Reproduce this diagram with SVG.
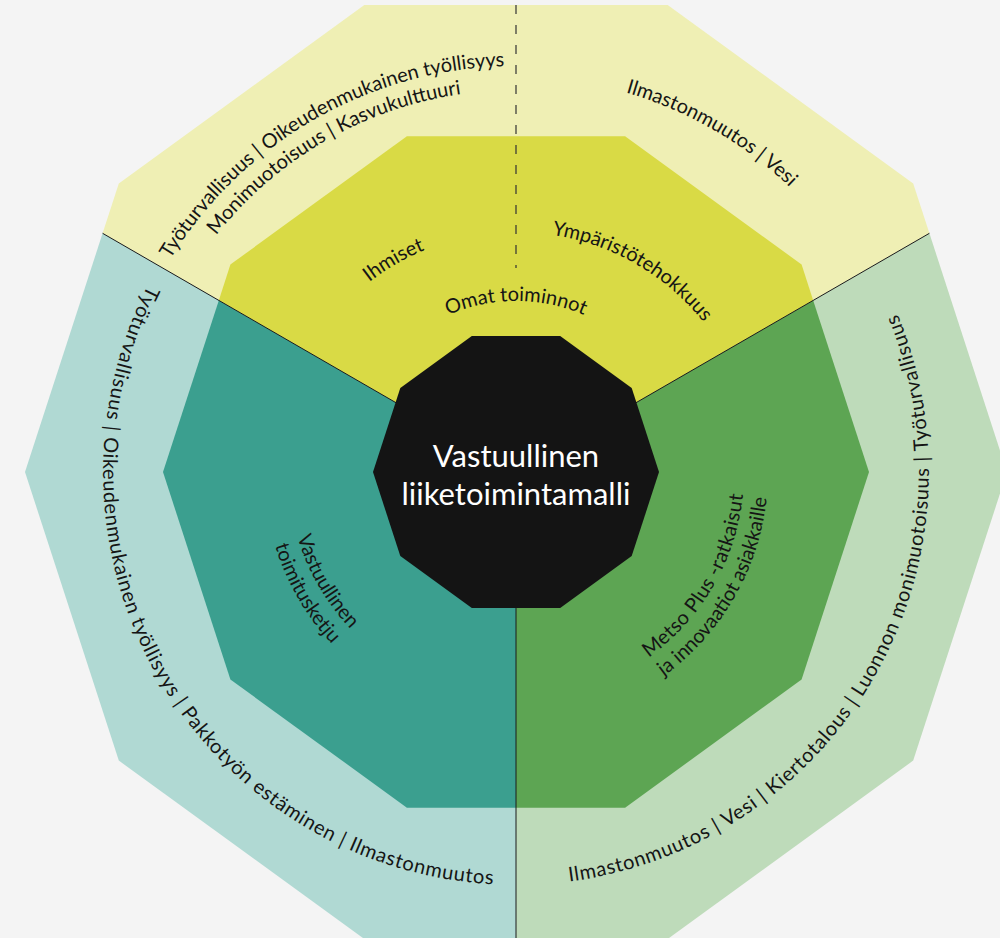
<svg xmlns="http://www.w3.org/2000/svg" width="1000" height="938" viewBox="0 0 1000 938">
<style>
.lbl{font-family:Lato,"Liberation Sans",sans-serif;font-size:20px;fill:#151515}
.wide{letter-spacing:0.7px}
.ctr{font-family:Lato,"Liberation Sans",sans-serif;font-size:31px;fill:#ffffff}
.div{stroke:#1a1a1a;stroke-width:1;fill:none}
.dash{stroke:#333333;stroke-width:1.2;stroke-dasharray:9 11;fill:none}
</style>
<defs>
<path id="p-top1" d="M 110 472 A 406 406 0 0 1 719 120.4"/>
<path id="p-top2" d="M 134 472 A 382 382 0 0 1 707 141.2"/>
<path id="p-topR" d="M 318.5 129.9 A 395 395 0 0 1 911 472"/>
<path id="p-ihm" d="M 276 472 A 240 240 0 0 1 636 264.2"/>
<path id="p-ymp" d="M 396 264.2 A 240 240 0 0 1 756 472"/>
<path id="p-omat" d="M 345 472 A 171 171 0 0 1 687 472"/>
<path id="p-left" d="M 279.1 133.7 A 413 413 0 0 0 690.5 846.3"/>
<path id="p-right" d="M 341.5 846.3 A 413 413 0 0 0 752.9 133.7"/>
<path id="p-left1" d="M 318.5 358 A 228 228 0 0 0 516 700"/>
<path id="p-left2" d="M 297.8 346 A 252 252 0 0 0 516 724"/>
<path id="p-right1" d="M 516 700 A 228 228 0 0 0 713.5 358"/>
<path id="p-right2" d="M 516 724 A 252 252 0 0 0 734.2 346"/>
</defs>
<rect width="1000" height="938" fill="#f4f4f4"/>

<g id="sector-omat-toiminnot">
<polygon points="516,472 929.4,233.3 913.2,183.4 667.7,5 364.3,5 118.8,183.4 102.6,233.3" fill="#efefb4"/>
<polygon points="516,472 813.2,300.4 801.6,264.5 625.1,136.3 406.9,136.3 230.4,264.5 218.8,300.4" fill="#d9da45"/>
<text class="lbl"><textPath href="#p-top1" startOffset="50%" text-anchor="middle">Työturvallisuus | Oikeudenmukainen työllisyys</textPath></text>
<text class="lbl"><textPath href="#p-top2" startOffset="50%" text-anchor="middle">Monimuotoisuus | Kasvukulttuuri</textPath></text>
<text class="lbl"><textPath href="#p-topR" startOffset="50%" text-anchor="middle">Ilmastonmuutos | Vesi</textPath></text>
<text class="lbl"><textPath href="#p-ihm" startOffset="50%" text-anchor="middle">Ihmiset</textPath></text>
<text class="lbl"><textPath href="#p-ymp" startOffset="50%" text-anchor="middle">Ympäristötehokkuus</textPath></text>
<text class="lbl"><textPath href="#p-omat" startOffset="50%" text-anchor="middle">Omat toiminnot</textPath></text>
</g>

<g id="sector-toimitusketju">
<polygon points="516,472 102.6,233.3 25,472 118.8,760.6 364.3,939 516,939" fill="#b0d9d3"/>
<polygon points="516,472 218.8,300.4 163,472 230.4,679.5 406.9,807.7 516,807.7" fill="#3b9f8f"/>
<text class="lbl wide"><textPath href="#p-left" startOffset="50%" text-anchor="middle">Työturvallisuus | Oikeudenmukainen työllisyys | Pakkotyön estäminen | Ilmastonmuutos</textPath></text>
<text class="lbl"><textPath href="#p-left1" startOffset="50%" text-anchor="middle">Vastuullinen</textPath></text>
<text class="lbl"><textPath href="#p-left2" startOffset="50%" text-anchor="middle">toimitusketju</textPath></text>
</g>

<g id="sector-asiakkaat">
<polygon points="516,472 516,939 667.7,939 913.2,760.6 1007,472 929.4,233.3" fill="#bedbba"/>
<polygon points="516,472 516,807.7 625.1,807.7 801.6,679.5 869,472 813.2,300.4" fill="#5da553"/>
<text class="lbl wide"><textPath href="#p-right" startOffset="50%" text-anchor="middle">Ilmastonmuutos | Vesi | Kiertotalous | Luonnon monimuotoisuus | Työturvallisuus</textPath></text>
<text class="lbl" style="letter-spacing:0.4px"><textPath href="#p-right1" startOffset="50%" text-anchor="middle">Metso Plus -ratkaisut</textPath></text>
<text class="lbl"><textPath href="#p-right2" startOffset="50%" text-anchor="middle">ja innovaatiot asiakkaille</textPath></text>
</g>

<g id="connectors">
<line class="div" x1="516" y1="472" x2="102.6" y2="233.3"/>
<line class="div" x1="516" y1="472" x2="929.4" y2="233.3"/>
<line class="div" x1="516" y1="472" x2="516" y2="938"/>
<line class="dash" x1="516" y1="5" x2="516" y2="268"/>
</g>

<g id="center-node">
<polygon points="659,472 631.7,387.9 560.2,336 471.8,336 400.3,387.9 373,472 400.3,556.1 471.8,608 560.2,608 631.7,556.1" fill="#141414"/>
<text class="ctr" x="516" y="466.7" text-anchor="middle">Vastuullinen</text>
<text class="ctr" x="516" y="505" text-anchor="middle">liiketoimintamalli</text>
</g>
</svg>
